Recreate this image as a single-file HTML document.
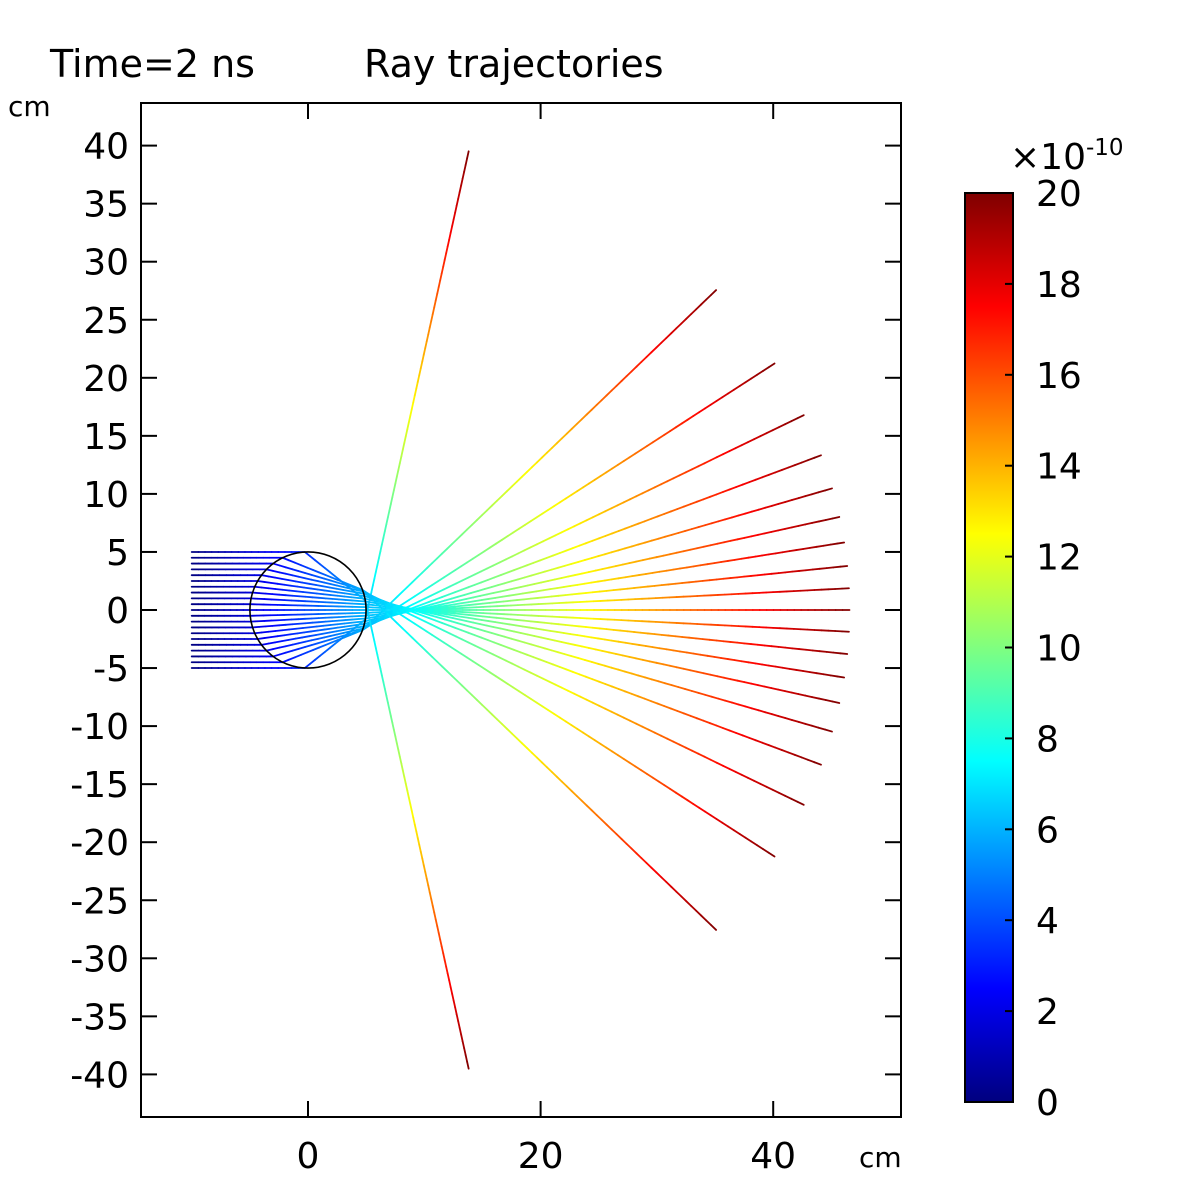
<!DOCTYPE html>
<html><head><meta charset="utf-8"><style>
body{margin:0;background:#fff}
svg text{font-family:"DejaVu Sans","Liberation Sans",sans-serif;fill:#000}
</style></head><body>
<svg id="s" width="1181" height="1181" viewBox="0 0 1181 1181" xmlns="http://www.w3.org/2000/svg">
<defs>
<linearGradient id="jet" x1="0" y1="1" x2="0" y2="0">
<stop offset="0" stop-color="#00007f"/><stop offset="0.125" stop-color="#0000ff"/>
<stop offset="0.375" stop-color="#00ffff"/><stop offset="0.625" stop-color="#ffff00"/>
<stop offset="0.875" stop-color="#ff0000"/><stop offset="1" stop-color="#7f0000"/>
</linearGradient>
<clipPath id="pc"><rect x="141" y="103" width="760" height="1014"/></clipPath>
</defs>
<text x="50" y="77" font-size="38">Time=2 ns</text>
<text x="364" y="77" font-size="38">Ray trajectories</text>
<text x="8" y="116" font-size="28">cm</text>
<text x="859" y="1167" font-size="28">cm</text>
<g id="rays" clip-path="url(#pc)"></g>
<circle id="lens" fill="none" stroke="#000" stroke-width="1.6"/>
<rect x="141" y="103" width="760" height="1014" fill="none" stroke="#000" stroke-width="2"/>
<g id="axes"></g>
<rect x="965" y="193" width="48" height="909" fill="url(#jet)" stroke="#000" stroke-width="2"/>
<text x="1010" y="169" font-size="36">×10<tspan font-size="23" dy="-14">-10</tspan></text>
<g id="cbticks"></g>
</svg>
<script>
const yTicks=[-40,-35,-30,-25,-20,-15,-10,-5,0,5,10,15,20,25,30,35,40];
const xTicks=[0,20,40];
const cbTicks=[0,2,4,6,8,10,12,14,16,18,20];
const rayHeights=[-4.993,-4.5,-4,-3.5,-3,-2.5,-2,-1.5,-1,-0.5,0,0.5,1,1.5,2,2.5,3,3.5,4,4.5,4.993];
const lensRadius=5, refrIndex=1.34, startX=-10, endTime=2, lightSpeed=29.98;
const NS='http://www.w3.org/2000/svg';
const X=v=>308+v*11.63, Y=v=>610-v*11.61;
const CB=v=>1102-v/20*909;
function mk(t,a){const e=document.createElementNS(NS,t);for(const k in a)e.setAttribute(k,a[k]);return e;}
const ax=document.getElementById('axes');
yTicks.forEach(v=>{
 let l=mk('line',{x1:141,x2:157,y1:Y(v),y2:Y(v),stroke:'#000','stroke-width':2});
 ax.appendChild(l);
 let r=mk('line',{x1:885,x2:901,y1:Y(v),y2:Y(v),stroke:'#000','stroke-width':2});
 ax.appendChild(r);
 let t=mk('text',{x:129,y:Y(v)+13,'font-size':36,'text-anchor':'end'});t.textContent=v;
 ax.appendChild(t);
});
xTicks.forEach(v=>{
 let l=mk('line',{x1:X(v),x2:X(v),y1:1101,y2:1117,stroke:'#000','stroke-width':2});
 ax.appendChild(l);
 let r=mk('line',{x1:X(v),x2:X(v),y1:103,y2:119,stroke:'#000','stroke-width':2});
 ax.appendChild(r);
 let t=mk('text',{x:X(v),y:1168,'font-size':36,'text-anchor':'middle'});t.textContent=v;
 ax.appendChild(t);
});
const cg=document.getElementById('cbticks');
cbTicks.forEach(v=>{
 let l=mk('line',{x1:1005,x2:1013,y1:CB(v),y2:CB(v),stroke:'#000','stroke-width':2});
 cg.appendChild(l);
 let t=mk('text',{x:1036,y:CB(v)+13,'font-size':36});t.textContent=v;
 cg.appendChild(t);
});
const lens=document.getElementById('lens');
lens.setAttribute('cx',X(0));lens.setAttribute('cy',Y(0));lens.setAttribute('r',lensRadius*11.62);
function jet(f){f=Math.max(0,Math.min(1,f));
 const c=x=>Math.max(0,Math.min(1,1.5-Math.abs(4*f-x)));
 return `rgb(${Math.round(255*c(3))},${Math.round(255*c(2))},${Math.round(255*c(1))})`;}
function refract(d,n,eta){const ci=-(d[0]*n[0]+d[1]*n[1]);const k=1-eta*eta*(1-ci*ci);
 if(k<0)return d;const f=eta*ci-Math.sqrt(k);return [eta*d[0]+f*n[0],eta*d[1]+f*n[1]];}
const rg=document.getElementById('rays');
const Lmax=endTime*lightSpeed;
rayHeights.forEach(y0=>{
 const R=lensRadius;
 const p1=[-Math.sqrt(R*R-y0*y0),y0];
 let d=[1,0];
 d=refract(d,[p1[0]/R,p1[1]/R],1/refrIndex);
 const s=-2*(p1[0]*d[0]+p1[1]*d[1]);
 const p2=[p1[0]+s*d[0],p1[1]+s*d[1]];
 let d2=refract(d,[-p2[0]/R,-p2[1]/R],refrIndex);
 const L0=p1[0]-startX, L1=L0+s*refrIndex;
 const rem=Lmax-L1;
 const p3=[p2[0]+rem*d2[0],p2[1]+rem*d2[1]];
 const segs=[[[startX,y0],p1,0,L0],[p1,p2,L0,L1],[p2,p3,L1,Lmax]];
 segs.forEach(([a,b,la,lb])=>{
  const len=Math.hypot(b[0]-a[0],b[1]-a[1]);const N=Math.max(2,Math.ceil(len/0.6));
  for(let i=0;i<N;i++){const u0=i/N,u1=(i+1)/N;
   const l=mk('line',{x1:X(a[0]+(b[0]-a[0])*u0),y1:Y(a[1]+(b[1]-a[1])*u0),x2:X(a[0]+(b[0]-a[0])*u1),y2:Y(a[1]+(b[1]-a[1])*u1),
    stroke:jet((la+(lb-la)*(u0+u1)/2)/Lmax),'stroke-width':1.8,'stroke-linecap':'round'});
   
   
   rg.appendChild(l);}
 });
});
</script>
</body></html>
